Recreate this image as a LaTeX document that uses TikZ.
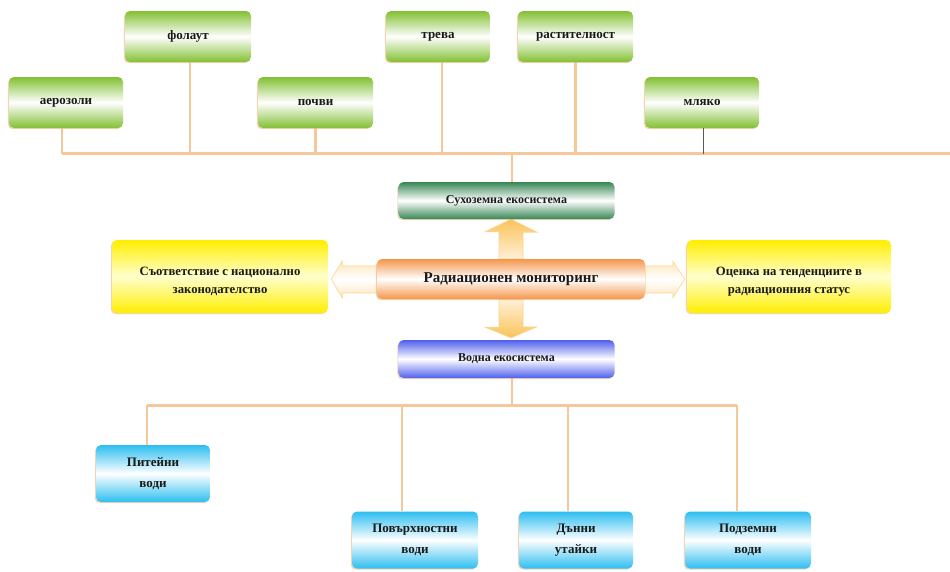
\documentclass[tikz,border=0pt]{standalone}
\usepackage{fontspec}
\setmainfont{Liberation Serif}
\usetikzlibrary{calc,backgrounds,shadows}
\definecolor{lgreen}{RGB}{130,192,50}
\definecolor{dgreen}{RGB}{55,135,85}
\definecolor{vblue}{RGB}{80,95,235}
\definecolor{rorange}{RGB}{245,150,75}
\definecolor{yel}{RGB}{255,238,0}
\definecolor{yelmid}{RGB}{255,255,205}
\definecolor{cyanb}{RGB}{45,190,240}
\definecolor{tan}{RGB}{245,200,155}
\definecolor{arrgold}{RGB}{250,195,90}
\definecolor{arrpale}{RGB}{255,240,215}
\definecolor{txt}{RGB}{25,25,25}
\tikzset{
  base/.style={rounded corners=5pt, inner sep=2pt, align=center, text=txt,
    font=\bfseries\fontsize{13}{15}\selectfont,
    drop shadow={shadow xshift=-1.2pt, shadow yshift=-1.2pt, fill=tan!80!brown, opacity=0.6}},
  gbox/.style={base, top color=lgreen, bottom color=lgreen, middle color=white,
    minimum height=51pt},
  sbox/.style={base, top color=dgreen, bottom color=dgreen, middle color=white,
    minimum width=216pt, minimum height=37pt, font=\bfseries\fontsize{12}{14}\selectfont},
  wbox/.style={base, top color=vblue, bottom color=vblue, middle color=white,
    minimum width=216pt, minimum height=38pt, font=\bfseries\fontsize{12}{14}\selectfont},
  rbox/.style={base, top color=rorange, bottom color=rorange, middle color=white,
    minimum width=268pt, minimum height=40pt, font=\bfseries\fontsize{15}{18}\selectfont},
  ybox/.style={base, top color=yel, bottom color=yel, middle color=yelmid,
    minimum height=73pt, font=\bfseries\fontsize{12.7}{18}\selectfont},
  cbox/.style={base, top color=cyanb, bottom color=cyanb, middle color=white,
    minimum height=57pt, font=\bfseries\fontsize{13}{21}\selectfont},
  bus/.style={draw=tan, line width=3.5pt},
  stub/.style={draw=tan, line width=2.5pt},
  darkstub/.style={draw=black!65, line width=1pt},
  barrow/.style={draw=arrgold!70!white, line width=0.6pt},
}
\begin{document}
\begin{tikzpicture}[x=1pt,y=-1pt]
\useasboundingbox (0,0) rectangle (950,571);

% top boxes
\node[gbox, minimum width=114pt] (aer)  at (66,102.5)  {аерозоли};
\node[gbox, minimum width=126pt] (fol)  at (188,36.5)  {фолаут};
\node[gbox, minimum width=115pt] (poch) at (315.5,102.5) {почви};
\node[gbox, minimum width=104pt] (trev) at (438,36.5)  {трева};
\node[gbox, minimum width=115pt] (rast) at (575.5,36.5) {растителност};
\node[gbox, minimum width=114pt] (mlk)  at (702,102.5) {мляко};

% centre
\node[sbox] (suk) at (506.5,200.5) {Сухоземна екосистема};
\node[rbox] (rad) at (511,279) {Радиационен мониторинг};
\node[wbox] (vod) at (506.5,359) {Водна екосистема};
\node[ybox, minimum width=216pt] (lyel) at (220,276.5) {\rule{0pt}{18pt}Съответствие с национално\\законодателство};
\node[ybox, minimum width=204pt] (ryel) at (789,276.5) {\rule{0pt}{18pt}Оценка на тенденциите в\\радиационния статус};

% bottom boxes
\node[cbox, minimum width=114pt] (pit) at (153,473.5) {Питейни\\води};
\node[cbox, minimum width=126pt] (pov) at (415,540) {Повърхностни\\води};
\node[cbox, minimum width=114pt] (dan) at (576,540) {Дънни\\утайки};
\node[cbox, minimum width=126pt] (pod) at (748,540) {Подземни\\води};

% top bus
\coordinate (tbL) at (62,153.5);
\coordinate (tbR) at (950,153.5);
\coordinate (tbC) at (512,153.5);
\begin{scope}[on background layer]
\draw[stub] (aer.south -| tbL) -- (tbL);
\draw[stub] (fol.south -| 190,0) -- (190,153.5);
\draw[stub] (poch.south) -- (poch.south |- tbL);
\draw[stub] (trev.south -| 442,0) -- (442,153.5);
\draw[stub] (rast.south) -- (rast.south |- tbL);
\draw[stub] (tbC) -- (suk.north -| tbC);
\draw[bus] (tbL) -- (tbR);
\end{scope}
\draw[darkstub] (mlk.south -| 703,0) -- (703,153.5);

% bottom bus
\coordinate (bbL) at (147,405);
\coordinate (bbR) at (737,405);
\coordinate (bbC) at (512,405);
\begin{scope}[on background layer]
\draw[stub] (vod.south -| bbC) -- (bbC);
\draw[bus, line width=3pt] (bbL) -- (bbR);
\draw[stub] (bbL) -- (pit.north -| bbL);
\draw[stub] (402,405) -- (pov.north -| 402,0);
\draw[stub] (568,405) -- (dan.north -| 568,0);
\draw[stub] (bbR) -- (pod.north -| bbR);
\end{scope}

% block arrows (behind the central node)
\begin{scope}[on background layer]
% up
\path[barrow, top color=arrgold, bottom color=arrpale]
  ($(rad.north)+(-12,0)$) -- ++(0,-27) -- ++(-14,0) -- (suk.south -| rad.north) -- ++(26,13)
  -- ++(-14,0) -- ($(rad.north)+(12,0)$) -- cycle;
% down
\path[barrow, top color=arrpale, bottom color=arrgold]
  ($(rad.south)+(-12,0)$) -- ++(0,28) -- ++(-14,0) -- ($(vod.north -| rad.south)+(0,-2)$) -- ++(26,-11)
  -- ++(-14,0) -- ($(rad.south)+(12,0)$) -- cycle;
% left
\path[barrow, top color=arrpale!80!arrgold, bottom color=arrpale!80!arrgold, middle color=white]
  ($(rad.west)+(0,-13)$) -- ($(lyel.east |- rad.west)+(14,-13)$) -- ++(0,-5) -- ($(lyel.east |- rad.west)+(3,0)$)
  -- ++(11,19) -- ++(0,-5) -- ($(rad.west)+(0,14)$) -- cycle;
% right
\path[barrow, top color=arrpale!80!arrgold, bottom color=arrpale!80!arrgold, middle color=white]
  ($(rad.east)+(0,-13)$) -- ($(ryel.west |- rad.east)+(-14,-13)$) -- ++(0,-5) -- ($(ryel.west |- rad.east)+(-2,0)$)
  -- ++(-12,19) -- ++(0,-5) -- ($(rad.east)+(0,14)$) -- cycle;
\end{scope}
\end{tikzpicture}
\end{document}
